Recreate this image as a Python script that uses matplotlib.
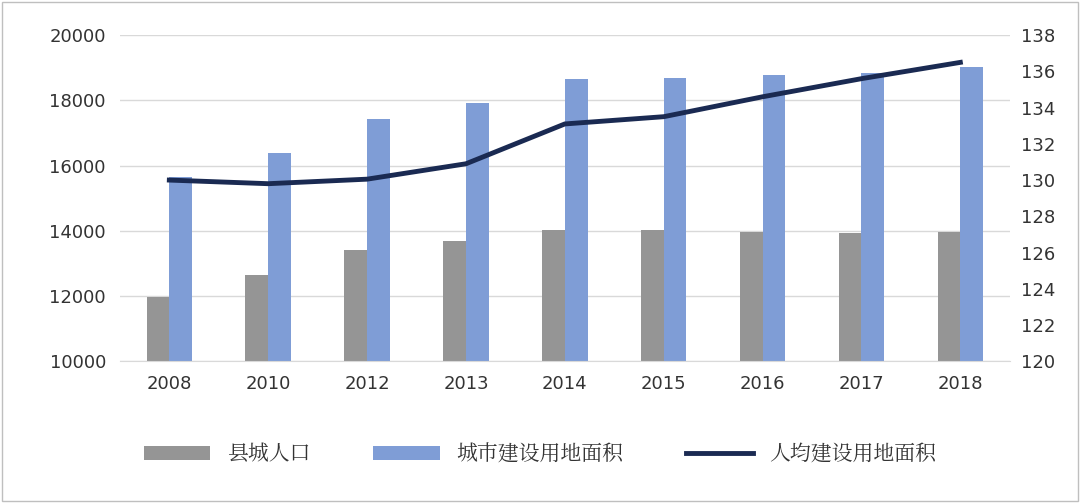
import numpy as np
import matplotlib.pyplot as plt
from matplotlib import font_manager as fm

cjk = [f.name for f in fm.fontManager.ttflist if 'CJK' in f.name]
sc = [n for n in cjk if n.endswith('SC')]
plt.rcParams['font.family'] = ['DejaVu Sans'] + (sc[:1] or cjk[:1])

years = ['2008', '2010', '2012', '2013', '2014', '2015', '2016', '2017', '2018']
county_pop = [11960, 12640, 13400, 13680, 14020, 14020, 13960, 13930, 13960]
build_area = [15650, 16380, 17420, 17910, 18650, 18680, 18770, 18830, 19020]
per_capita = [130.0, 129.8, 130.05, 130.9, 133.1, 133.5, 134.6, 135.6, 136.5]

fig = plt.figure(figsize=(10.8, 5.03), dpi=100)
ax = fig.add_axes([0.111, 0.282, 0.824, 0.648])
x = np.arange(len(years))
w = 0.23
ax.bar(x - w / 2, county_pop, w, color='#959595', label='县城人口', zorder=2)
ax.bar(x + w / 2, build_area, w, color='#7f9dd6', label='城市建设用地面积', zorder=2)
ax.set_ylim(10000, 20000)
ax.set_yticks(range(10000, 20001, 2000))
ax.set_xlim(-0.5, len(years) - 0.5)
ax.set_xticks(x)
ax.set_xticklabels(years)
ax.grid(axis='y', color='#d9d9d9', lw=1, zorder=0)
for s in ['top', 'right', 'left']:
    ax.spines[s].set_visible(False)
ax.spines['bottom'].set_color('#d9d9d9')
ax.tick_params(length=0, labelsize=13, colors='#333333', pad=10)

ax2 = ax.twinx()
ax2.plot(x, per_capita, color='#1a2a52', lw=3.5, label='人均建设用地面积', zorder=3)
ax2.set_ylim(120, 138)
ax2.set_yticks(range(120, 139, 2))
for s in ax2.spines.values():
    s.set_visible(False)
ax2.tick_params(length=0, labelsize=13, colors='#333333', pad=8)

h1, l1 = ax.get_legend_handles_labels()
h2, l2 = ax2.get_legend_handles_labels()
fig.legend(h1 + h2, l1 + l2, loc='lower center', bbox_to_anchor=(0.5, 0.04), ncol=3,
           frameon=False, fontsize=15, handlelength=3.2, columnspacing=3,
           labelcolor='#333333')

fig.patches.append(plt.Rectangle((0.002, 0.003), 0.996, 0.994, transform=fig.transFigure,
                                 fill=False, edgecolor='#bfbfbf', lw=1))
fig.savefig('out.png', dpi=100)
